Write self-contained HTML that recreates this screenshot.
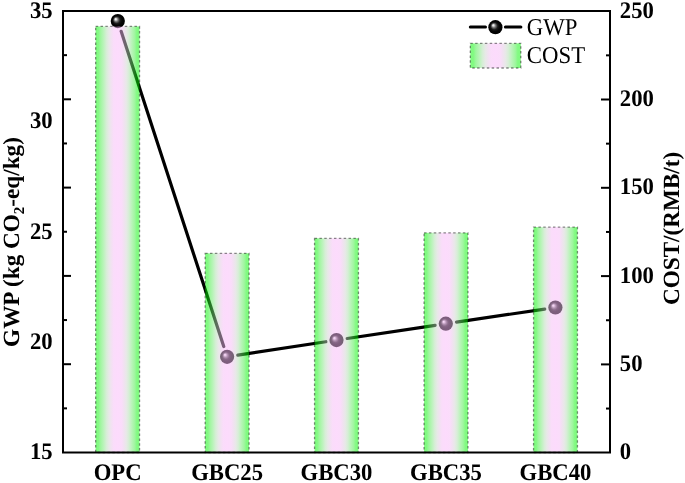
<!DOCTYPE html><html><head><meta charset="utf-8"><style>
html,body{margin:0;padding:0;background:#fff;}
svg{display:block;will-change:transform;}
text{font-family:"Liberation Serif",serif;fill:#000;text-rendering:geometricPrecision;}
</style></head><body>
<svg width="685" height="483" viewBox="0 0 685 483">
<defs>
<linearGradient id="bg" x1="0" y1="0" x2="1" y2="0">
<stop offset="0" stop-color="rgb(0,245,0)"/>
<stop offset="0.06" stop-color="rgb(5,245,5)"/>
<stop offset="0.11" stop-color="rgb(65,237,65)"/>
<stop offset="0.175" stop-color="rgb(115,233,115)"/>
<stop offset="0.245" stop-color="rgb(175,221,175)"/>
<stop offset="0.3" stop-color="rgb(207,211,207)"/>
<stop offset="0.36" stop-color="rgb(229,195,229)"/>
<stop offset="0.41" stop-color="rgb(245,186,245)"/>
<stop offset="0.5" stop-color="rgb(249,183,249)"/>
<stop offset="0.59" stop-color="rgb(245,186,245)"/>
<stop offset="0.64" stop-color="rgb(229,195,229)"/>
<stop offset="0.7" stop-color="rgb(207,211,207)"/>
<stop offset="0.755" stop-color="rgb(175,221,175)"/>
<stop offset="0.825" stop-color="rgb(115,233,115)"/>
<stop offset="0.89" stop-color="rgb(65,237,65)"/>
<stop offset="0.94" stop-color="rgb(5,245,5)"/>
<stop offset="1" stop-color="rgb(0,245,0)"/>
</linearGradient>
<radialGradient id="sp" cx="0.5" cy="0.5" r="0.5" fx="0.335" fy="0.35">
<stop offset="0" stop-color="#ffffff"/>
<stop offset="0.1" stop-color="#e4e4e4"/>
<stop offset="0.3" stop-color="#6e6e6e"/>
<stop offset="0.5" stop-color="#1a1a1a"/>
<stop offset="0.7" stop-color="#040404"/>
<stop offset="1" stop-color="#000000"/>
</radialGradient>
</defs>

<line x1="121.14" y1="31.37" x2="223.76" y2="346.53" stroke="#000" stroke-width="3.2" stroke-linecap="round"/>
<line x1="237.78" y1="355.17" x2="325.82" y2="341.73" stroke="#000" stroke-width="3.2" stroke-linecap="round"/>
<line x1="347.18" y1="338.50" x2="435.12" y2="325.30" stroke="#000" stroke-width="3.2" stroke-linecap="round"/>
<line x1="456.48" y1="322.12" x2="544.72" y2="309.08" stroke="#000" stroke-width="3.2" stroke-linecap="round"/>
<circle cx="117.8" cy="21.1" r="7.1" fill="url(#sp)"/>
<circle cx="227.1" cy="356.8" r="7.1" fill="url(#sp)"/>
<circle cx="336.5" cy="340.1" r="7.1" fill="url(#sp)"/>
<circle cx="445.8" cy="323.7" r="7.1" fill="url(#sp)"/>
<circle cx="555.4" cy="307.5" r="7.1" fill="url(#sp)"/>
<rect x="95.65" y="26.4" width="43.9" height="426.10" fill="url(#bg)" fill-opacity="0.5" stroke="#000" stroke-opacity="0.45" stroke-width="1.3" stroke-dasharray="2.5 2.35"/>
<rect x="205.15" y="253.3" width="43.9" height="199.20" fill="url(#bg)" fill-opacity="0.5" stroke="#000" stroke-opacity="0.45" stroke-width="1.3" stroke-dasharray="2.5 2.35"/>
<rect x="314.55" y="238.3" width="43.9" height="214.20" fill="url(#bg)" fill-opacity="0.5" stroke="#000" stroke-opacity="0.45" stroke-width="1.3" stroke-dasharray="2.5 2.35"/>
<rect x="424.05" y="232.8" width="43.9" height="219.70" fill="url(#bg)" fill-opacity="0.5" stroke="#000" stroke-opacity="0.45" stroke-width="1.3" stroke-dasharray="2.5 2.35"/>
<rect x="533.55" y="227.1" width="43.9" height="225.40" fill="url(#bg)" fill-opacity="0.5" stroke="#000" stroke-opacity="0.45" stroke-width="1.3" stroke-dasharray="2.5 2.35"/>
<rect x="63" y="11" width="547" height="441.5" fill="none" stroke="#000" stroke-width="2"/>
<line x1="63" y1="408.35" x2="67" y2="408.35" stroke="#000" stroke-width="2"/>
<line x1="610" y1="408.55" x2="606" y2="408.55" stroke="#000" stroke-width="2"/>
<line x1="63" y1="364.20" x2="71" y2="364.20" stroke="#000" stroke-width="2"/>
<line x1="610" y1="364.40" x2="601" y2="364.40" stroke="#000" stroke-width="2"/>
<line x1="63" y1="320.05" x2="67" y2="320.05" stroke="#000" stroke-width="2"/>
<line x1="610" y1="320.25" x2="606" y2="320.25" stroke="#000" stroke-width="2"/>
<line x1="63" y1="275.90" x2="71" y2="275.90" stroke="#000" stroke-width="2"/>
<line x1="610" y1="276.10" x2="601" y2="276.10" stroke="#000" stroke-width="2"/>
<line x1="63" y1="231.75" x2="67" y2="231.75" stroke="#000" stroke-width="2"/>
<line x1="610" y1="231.95" x2="606" y2="231.95" stroke="#000" stroke-width="2"/>
<line x1="63" y1="187.60" x2="71" y2="187.60" stroke="#000" stroke-width="2"/>
<line x1="610" y1="187.80" x2="601" y2="187.80" stroke="#000" stroke-width="2"/>
<line x1="63" y1="143.45" x2="67" y2="143.45" stroke="#000" stroke-width="2"/>
<line x1="610" y1="143.65" x2="606" y2="143.65" stroke="#000" stroke-width="2"/>
<line x1="63" y1="99.30" x2="71" y2="99.30" stroke="#000" stroke-width="2"/>
<line x1="610" y1="99.50" x2="601" y2="99.50" stroke="#000" stroke-width="2"/>
<line x1="63" y1="55.15" x2="67" y2="55.15" stroke="#000" stroke-width="2"/>
<line x1="610" y1="55.35" x2="606" y2="55.35" stroke="#000" stroke-width="2"/>
<text transform="translate(52.60,459.30) scale(1,1.05)" font-size="22.7" font-weight="bold" text-anchor="end">15</text>
<text transform="translate(52.60,348.93) scale(1,1.05)" font-size="22.7" font-weight="bold" text-anchor="end">20</text>
<text transform="translate(52.60,238.55) scale(1,1.05)" font-size="22.7" font-weight="bold" text-anchor="end">25</text>
<text transform="translate(52.60,128.18) scale(1,1.05)" font-size="22.7" font-weight="bold" text-anchor="end">30</text>
<text transform="translate(52.60,17.80) scale(1,1.05)" font-size="22.7" font-weight="bold" text-anchor="end">35</text>
<text transform="translate(619.80,459.30) scale(1,1.05)" font-size="22.7" font-weight="bold">0</text>
<text transform="translate(619.80,371.00) scale(1,1.05)" font-size="22.7" font-weight="bold">50</text>
<text transform="translate(619.80,282.70) scale(1,1.05)" font-size="22.7" font-weight="bold">100</text>
<text transform="translate(619.80,194.40) scale(1,1.05)" font-size="22.7" font-weight="bold">150</text>
<text transform="translate(619.80,106.10) scale(1,1.05)" font-size="22.7" font-weight="bold">200</text>
<text transform="translate(619.80,17.80) scale(1,1.05)" font-size="22.7" font-weight="bold">250</text>
<text transform="translate(117.60,480.20) scale(1,1.05)" font-size="22.7" font-weight="bold" text-anchor="middle">OPC</text>
<text transform="translate(227.10,480.20) scale(1,1.05)" font-size="22.7" font-weight="bold" text-anchor="middle">GBC25</text>
<text transform="translate(336.50,480.20) scale(1,1.05)" font-size="22.7" font-weight="bold" text-anchor="middle">GBC30</text>
<text transform="translate(446.00,480.20) scale(1,1.05)" font-size="22.7" font-weight="bold" text-anchor="middle">GBC35</text>
<text transform="translate(555.50,480.20) scale(1,1.05)" font-size="22.7" font-weight="bold" text-anchor="middle">GBC40</text>
<text transform="translate(18.5,242) rotate(-90)" font-size="23.2" font-weight="bold" text-anchor="middle">GWP (kg CO<tspan font-size="15" dy="5">2</tspan><tspan dy="-5">-eq/kg)</tspan></text>
<text transform="translate(679.20,228.40) rotate(-90) scale(1,1.0)" font-size="23.2" font-weight="bold" text-anchor="middle">COST/(RMB/t)</text>
<line x1="470.3" y1="26.9" x2="485.5" y2="26.9" stroke="#000" stroke-width="3" stroke-linecap="round"/>
<line x1="505.4" y1="26.9" x2="520.9" y2="26.9" stroke="#000" stroke-width="3" stroke-linecap="round"/>
<circle cx="495.4" cy="27.2" r="7.1" fill="url(#sp)"/>
<text transform="translate(526.80,34.90) scale(1,1.055)" font-size="22.8">GWP</text>
<rect x="470.3" y="43.3" width="50.5" height="24.7" fill="url(#bg)" fill-opacity="0.5" stroke="#000" stroke-opacity="0.45" stroke-width="1.3" stroke-dasharray="2.5 2.35"/>
<text transform="translate(526.80,62.90) scale(1,1.055)" font-size="22.8">COST</text>
</svg></body></html>
